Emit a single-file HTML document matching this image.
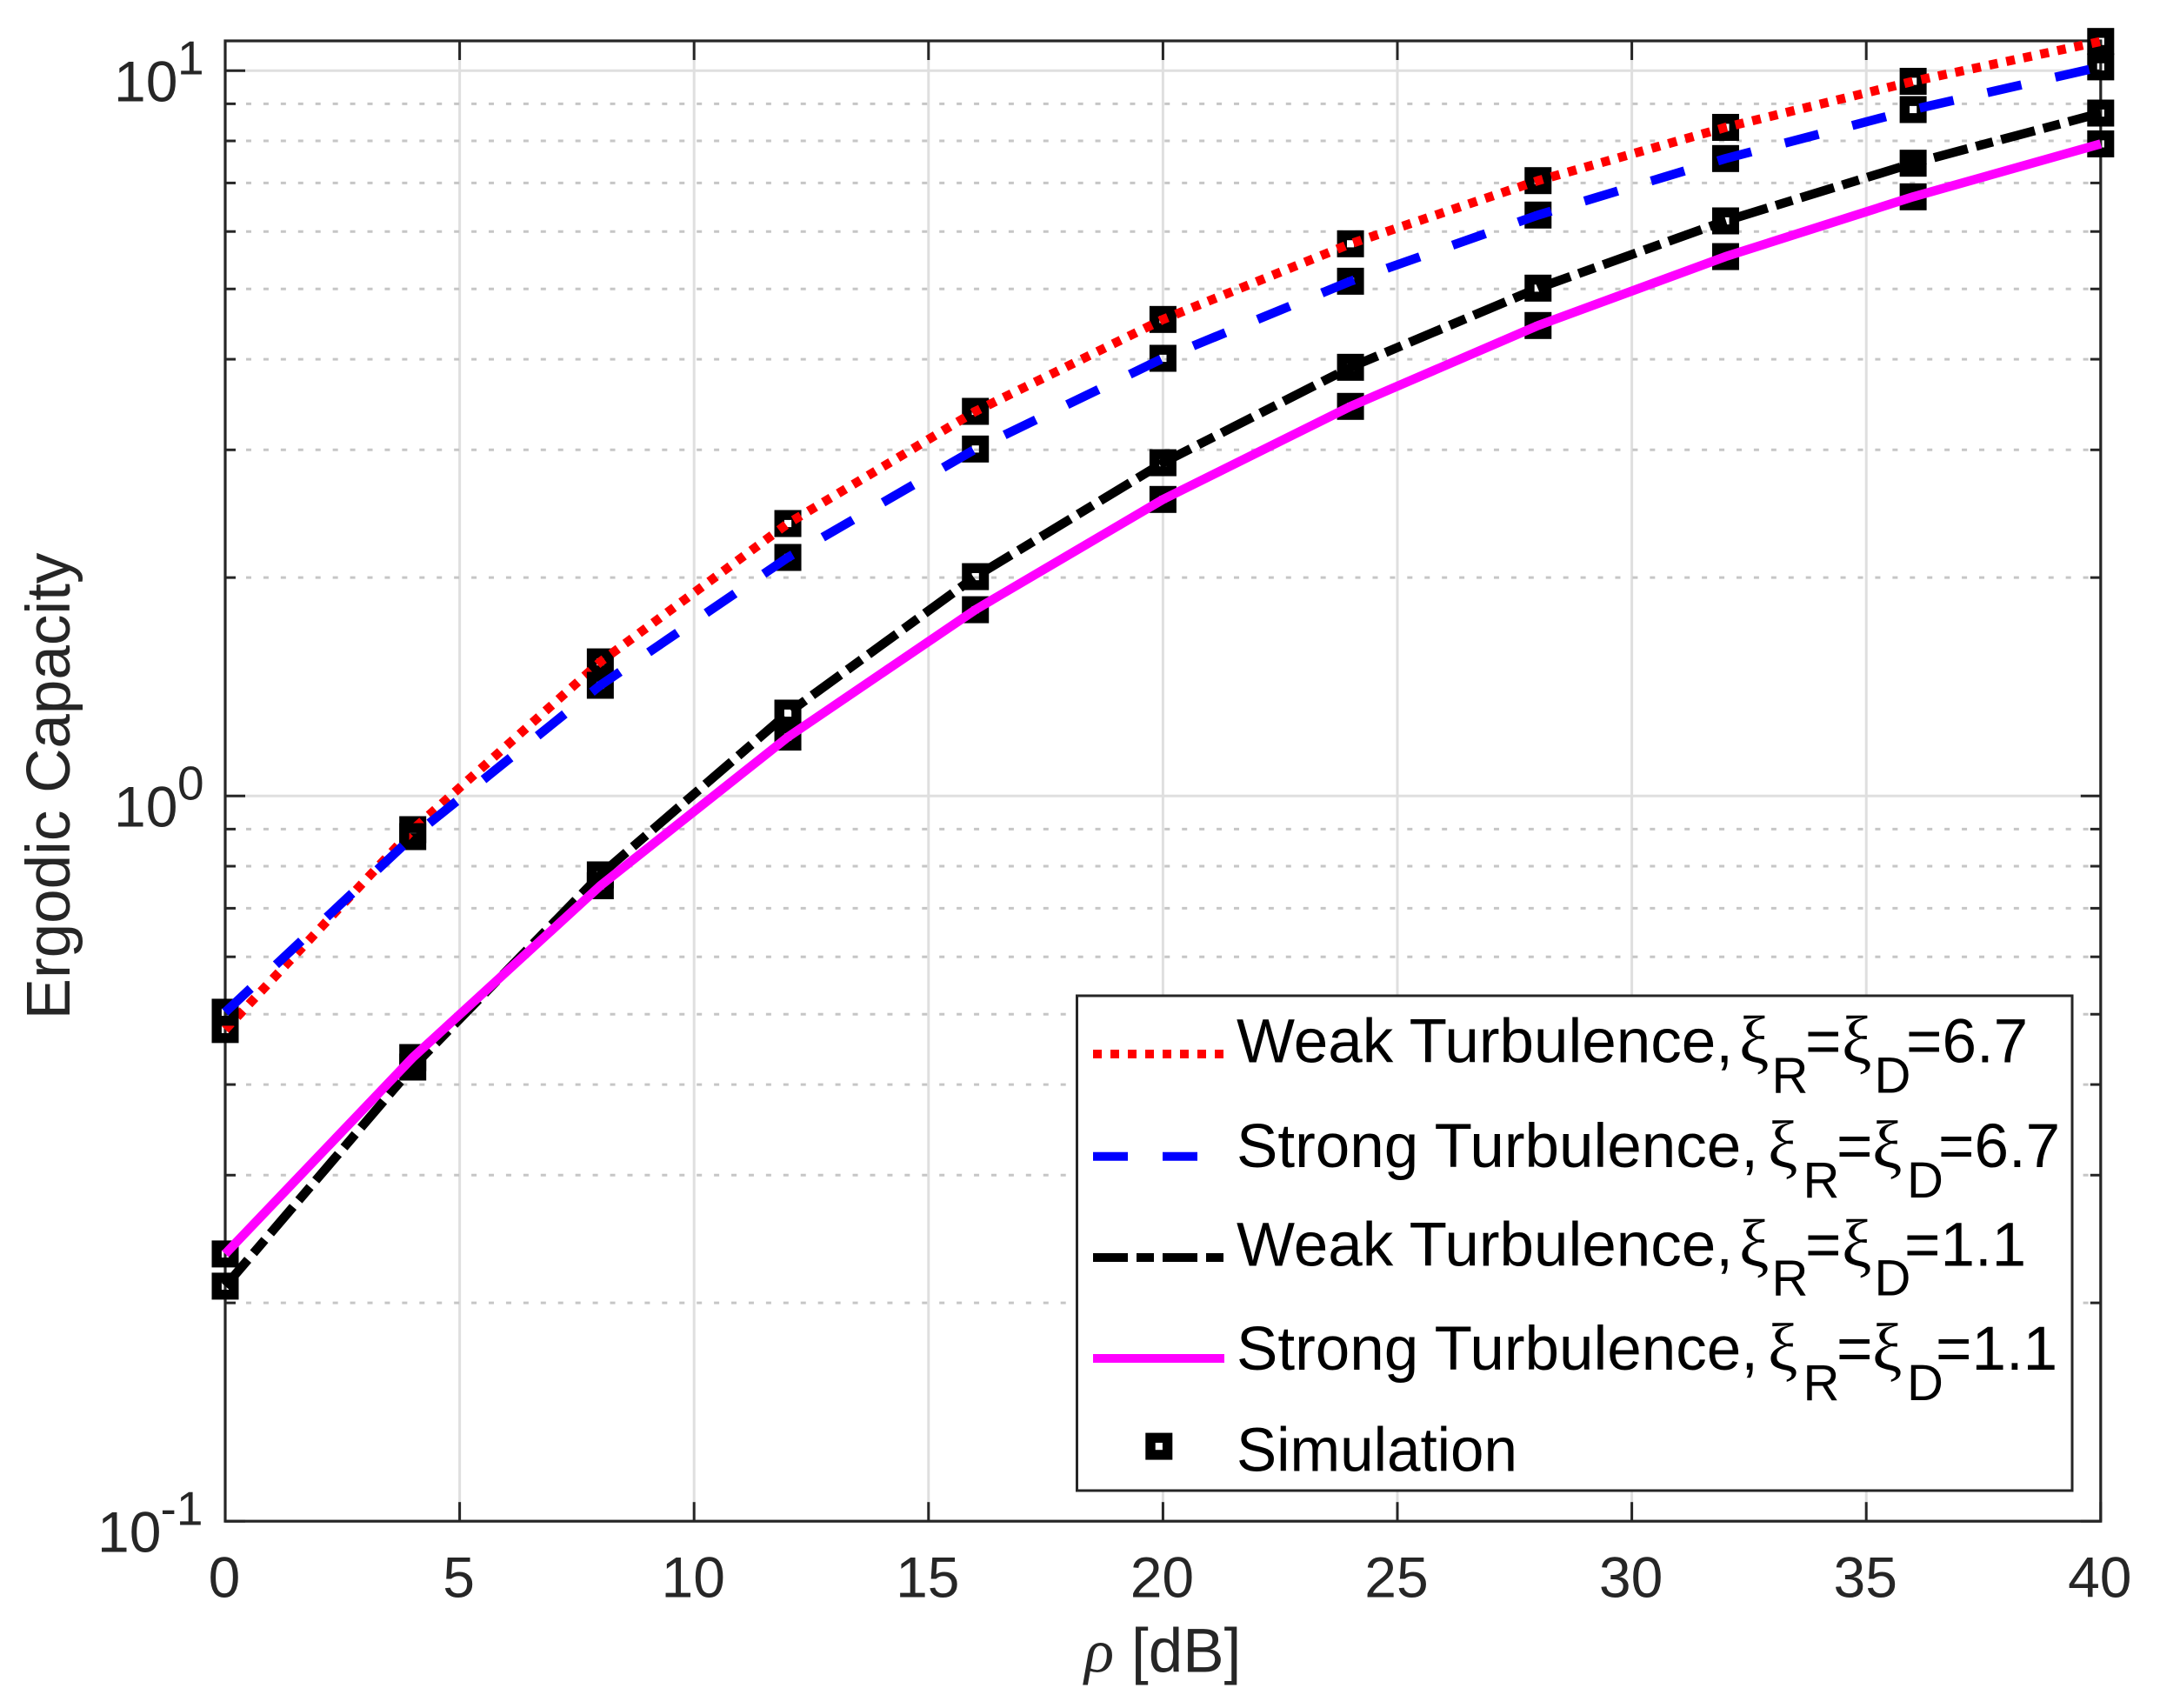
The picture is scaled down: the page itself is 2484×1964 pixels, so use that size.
<!DOCTYPE html>
<html lang="en">
<head>
<meta charset="utf-8">
<title>Ergodic Capacity vs rho</title>
<style>
html,body{margin:0;padding:0;background:#fff;}
svg{display:block;}
text{font-family:"Liberation Sans",sans-serif;}
.leg{font-size:71px;fill:#000;}
.sub{font-size:58px;fill:#000;}
.xi{font-family:"Liberation Serif",serif;font-size:77px;fill:#000;}
</style>
</head>
<body>
<svg id="chart" xmlns="http://www.w3.org/2000/svg" width="2484" height="1964" viewBox="0 0 2484 1964">
  <rect x="0" y="0" width="2484" height="1964" fill="#fff"/>
  <g id="grid"></g>
  <g id="axes"></g>
  <g id="marks"></g>
  <text x="1247" y="1922.7" font-size="71" fill="#262626" style="font-family:'Liberation Serif',serif;font-style:italic">ρ</text>
  <text x="1301" y="1922.7" font-size="71" fill="#262626">[dB]</text>
  <text transform="translate(80 904) rotate(-90)" text-anchor="middle" font-size="71" fill="#262626">Ergodic Capacity</text>

  <g>
    <rect x="1238.5" y="1145" width="1144.5" height="569" fill="#fff" stroke="#262626" stroke-width="3"/>

    <g>
      <line x1="1257" x2="1408" y1="1212" y2="1212" stroke="#ff0000" stroke-width="10" stroke-dasharray="10 10"/>
      <text class="leg" x="1422" y="1221.6">Weak Turbulence,</text>
      <text class="xi" x="2000" y="1221.6">ξ</text><text class="sub" x="2037.5" y="1256.5">R</text>
      <text class="leg" x="2076" y="1221.6">=</text>
      <text class="xi" x="2118" y="1221.6">ξ</text><text class="sub" x="2155.5" y="1256.5">D</text>
      <text class="leg" x="2192" y="1221.6">=6.7</text>
    </g>

    <g>
      <line x1="1257" x2="1408" y1="1329.7" y2="1329.7" stroke="#0000ff" stroke-width="10" stroke-dasharray="40 40"/>
      <text class="leg" x="1422" y="1342">Strong Turbulence,</text>
      <text class="xi" x="2033" y="1342">ξ</text><text class="sub" x="2073.5" y="1377">R</text>
      <text class="leg" x="2112" y="1342">=</text>
      <text class="xi" x="2153" y="1342">ξ</text><text class="sub" x="2193" y="1377">D</text>
      <text class="leg" x="2229" y="1342">=6.7</text>
    </g>

    <g>
      <line x1="1257" x2="1408" y1="1446" y2="1446" stroke="#000000" stroke-width="10" stroke-dasharray="40 10 20 10"/>
      <text class="leg" x="1422" y="1455.4">Weak Turbulence,</text>
      <text class="xi" x="2000" y="1455.4">ξ</text><text class="sub" x="2037.5" y="1489.6">R</text>
      <text class="leg" x="2076" y="1455.4">=</text>
      <text class="xi" x="2118" y="1455.4">ξ</text><text class="sub" x="2155.5" y="1489.6">D</text>
      <text class="leg" x="2190" y="1455.4">=1.1</text>
    </g>

    <g>
      <line x1="1257" x2="1408" y1="1562" y2="1562" stroke="#ff00ff" stroke-width="10"/>
      <text class="leg" x="1422" y="1575">Strong Turbulence,</text>
      <text class="xi" x="2033" y="1575">ξ</text><text class="sub" x="2073.5" y="1610">R</text>
      <text class="leg" x="2112" y="1575">=</text>
      <text class="xi" x="2153" y="1575">ξ</text><text class="sub" x="2193" y="1610">D</text>
      <text class="leg" x="2226" y="1575">=1.1</text>
    </g>

    <g>
      <rect x="1323" y="1653.3" width="19.6" height="19.6" fill="none" stroke="#000" stroke-width="11.4"/>
      <text class="leg" x="1422" y="1691.5" textLength="323" lengthAdjust="spacingAndGlyphs">Simulation</text>
    </g>
  </g>
</svg>

<script>
// Chart data
var rhoDb = [0, 4, 8, 12, 16, 20, 24, 28, 32, 36, 40];
var weakHigh = [0.4763, 0.8984, 1.5304, 2.3743, 3.390, 4.5385, 5.771, 7.052, 8.351, 9.666, 10.97];
var strongHigh = [0.5032, 0.8788, 1.4208, 2.132, 3.008, 4.012, 5.124, 6.322, 7.564, 8.837, 10.12];
var weakLow = [0.2109, 0.4228, 0.7783, 1.3006, 2.006, 2.880, 3.899, 5.013, 6.206, 7.453, 8.739];
var strongLow = [0.2336, 0.4358, 0.7518, 1.2053, 1.806, 2.563, 3.444, 4.452, 5.541, 6.699, 7.925];
var xTicks = [0, 5, 10, 15, 20, 25, 30, 35, 40];
var yDecades = [10, 1, 0.1];
var yDecadeExponents = ["1", "0", "-1"];
var yMinorValues = [9, 8, 7, 6, 5, 4, 3, 2, 0.9, 0.8, 0.7, 0.6, 0.5, 0.4, 0.3, 0.2];

var SVGNS = 'http://www.w3.org/2000/svg';
var AXIS_COLOR = '#262626';
var plotLeft = 259, plotRight = 2415.8, plotTop = 47, plotBottom = 1749.2;
var xMax = 40, decadePx = 834;

function xScale(v) { return plotLeft + (v / xMax) * (plotRight - plotLeft); }
function yScale(v) { return plotBottom - (Math.log10(v) + 1) * decadePx; }

function make(tag, attrs, parent) {
  var n = document.createElementNS(SVGNS, tag);
  for (var k in attrs) { n.setAttribute(k, attrs[k]); }
  parent.appendChild(n);
  return n;
}

var grid = document.getElementById('grid');
var axes = document.getElementById('axes');
var marks = document.getElementById('marks');

// Grid lines
xTicks.forEach(function (t) {
  if (t === 0 || t === xMax) { return; }
  var g = make('line', { x1: xScale(t), x2: xScale(t), y1: plotTop, y2: plotBottom, stroke: '#dfdfdf', 'stroke-width': 3 }, grid);
  
  
});
yMinorValues.forEach(function (v) {
  var g = make('line', { x1: plotLeft + 24, x2: plotRight, y1: yScale(v), y2: yScale(v), stroke: '#c6c6c6', 'stroke-width': 3, 'stroke-dasharray': '6 13.93' }, grid);
  
  
});
yDecades.forEach(function (v) {
  if (v === 0.1) { return; }
  var g = make('line', { x1: plotLeft, x2: plotRight, y1: yScale(v), y2: yScale(v), stroke: '#dfdfdf', 'stroke-width': 3 }, grid);
  
  
});

// Axes box
var box = make('rect', { x: plotLeft, y: plotTop, width: plotRight - plotLeft, height: plotBottom - plotTop, fill: 'none', stroke: AXIS_COLOR, 'stroke-width': 3.2 }, axes);



// X ticks and labels
xTicks.forEach(function (t) {
  var px = xScale(t);
  var a = make('line', { x1: px, x2: px, y1: plotBottom, y2: plotBottom - 22, stroke: AXIS_COLOR, 'stroke-width': 3 }, axes);
  
  
  var b = make('line', { x1: px, x2: px, y1: plotTop, y2: plotTop + 22, stroke: AXIS_COLOR, 'stroke-width': 3 }, axes);
  
  
  var lab = make('text', { x: px - 1, y: 1836.7, 'text-anchor': 'middle', 'font-size': 66, fill: AXIS_COLOR }, axes);
  
  
  lab.textContent = String(t);
});

// Y ticks
yMinorValues.forEach(function (v) {
  var py = yScale(v);
  var a = make('line', { x1: plotLeft, x2: plotLeft + 12, y1: py, y2: py, stroke: AXIS_COLOR, 'stroke-width': 3 }, axes);
  
  
  var b = make('line', { x1: plotRight, x2: plotRight - 12, y1: py, y2: py, stroke: AXIS_COLOR, 'stroke-width': 3 }, axes);
  
  
});
yDecades.forEach(function (v, i) {
  var py = yScale(v);
  var a = make('line', { x1: plotLeft, x2: plotLeft + 23, y1: py, y2: py, stroke: AXIS_COLOR, 'stroke-width': 3 }, axes);
  
  
  var b = make('line', { x1: plotRight, x2: plotRight - 23, y1: py, y2: py, stroke: AXIS_COLOR, 'stroke-width': 3 }, axes);
  
  
  var neg = yDecadeExponents[i].length > 1;
  var base = make('text', { x: neg ? 112 : 131, y: py + 35.5, 'font-size': 66, fill: AXIS_COLOR }, axes);
  
  
  base.textContent = '10';
  var sup = make('text', { x: neg ? 184.5 : 204, y: py + 4.5, 'font-size': 55, fill: AXIS_COLOR }, axes);
  
  
  sup.textContent = yDecadeExponents[i];
});

// Series: each simulation marker layer sits under its own curve, above earlier curves
function drawMarkers(values, name) {
  values.forEach(function (v, i) {
    var m = make('rect', { x: xScale(rhoDb[i]) - 9.8, y: yScale(v) - 9.8, width: 19.6, height: 19.6, fill: 'none', stroke: '#000', 'stroke-width': 11.4 }, marks);
    
    
  });
}
function drawCurve(values, color, dash, name) {
  var pts = values.map(function (v, i) { return xScale(rhoDb[i]).toFixed(2) + ',' + yScale(v).toFixed(2); }).join(' ');
  var attrs = { points: pts, fill: 'none', stroke: color, 'stroke-width': 10.5, 'stroke-linejoin': 'round' };
  if (dash) { attrs['stroke-dasharray'] = dash; }
  var c = make('polyline', attrs, marks);
  
  
}

drawMarkers(weakHigh, 'weak-6-7');
drawCurve(weakHigh, '#ff0000', '10 10', 'weak-6-7');
drawMarkers(strongHigh, 'strong-6-7');
drawCurve(strongHigh, '#0000ff', '40 40', 'strong-6-7');
drawMarkers(weakLow, 'weak-1-1');
drawCurve(weakLow, '#000000', '40 10 20 10', 'weak-1-1');
drawMarkers(strongLow, 'strong-1-1');
drawCurve(strongLow, '#ff00ff', null, 'strong-1-1');
</script>
</body>
</html>
